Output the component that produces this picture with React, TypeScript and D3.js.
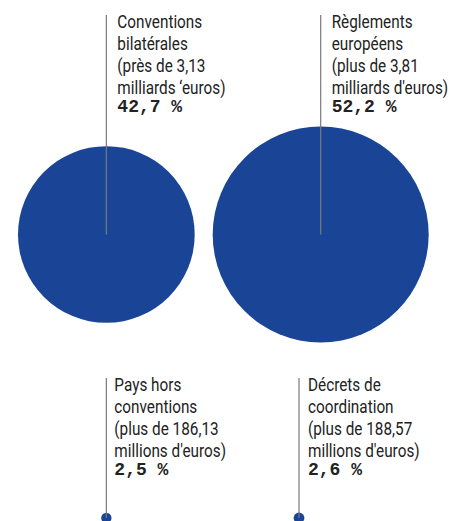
import React, { useEffect } from "react";
import * as d3 from "d3";

// shares of the total amount, in percent
const categories = [
  "Conventions bilatérales",
  "Règlements européens",
  "Pays hors conventions",
  "Décrets de coordination",
];
const shares = [42.7, 52.2, 2.5, 2.6];
const shareLabels = ["42,7 %", "52,2 %", "2,5 %", "2,6 %"];
const labelLines = [
  ["Conventions", "bilatérales", "(près de 3,13", "milliards ‘euros)"],
  ["Règlements", "européens", "(plus de 3,81", "milliards d'euros)"],
  ["Pays hors", "conventions", "(plus de 186,13", "millions d'euros)"],
  ["Décrets de", "coordination", "(plus de 188,57", "millions d'euros)"],
];

const W = 450;
const H = 521;
const BLUE = "#1a4596";

export default function App() {
  useEffect(() => {
    document.body.style.margin = "0";
  }, []);

  // radius grows linearly with the share
  const r = d3.scaleLinear().domain([0, d3.max(shares) as number]).range([0, 108]);

  const pad = 18;
  const gap = 18;
  const r0 = r(shares[0]);
  const r1 = r(shares[1]);
  const bigY = 234.5;
  const smallY = 518;

  // centres: two big circles side by side, small ones at the bottom
  const cx = [pad + r0, pad + 2 * r0 + gap + r1, pad + r0, 299];
  const cy = [bigY, bigY, smallY, smallY];
  const lineTop = [15, 15, 378, 378];
  const textDx = [11, 11, 8, 9];

  const lineH = 22;

  return (
    <svg width={W} height={H} style={{ display: "block" }}>
      {shares.map((s, i) => (
        <circle key={"c" + i} cx={cx[i]} cy={cy[i]} r={r(s)} fill={BLUE} />
      ))}
      {shares.map((s, i) => (
        <line
          key={"l" + i}
          x1={cx[i]}
          x2={cx[i]}
          y1={lineTop[i]}
          y2={cy[i]}
          stroke="#7a7a7a"
          strokeWidth={1.2}
        />
      ))}
      {categories.map((c, i) => {
        const x = cx[i] + textDx[i];
        const y0 = lineTop[i] + 13;
        return (
          <g key={"t" + i}>
            {labelLines[i].map((t, j) => (
              <g key={j} transform={`translate(${x},${y0 + j * lineH}) scale(0.875,1)`}>
                <text
                  fontFamily="Roboto"
                  fontSize={17.5}
                  fill="#222"
                >
                  {t}
                </text>
              </g>
            ))}
            <text
              x={x}
              y={y0 + 3 * lineH + 18}
              fontFamily="Liberation Mono"
              fontWeight="bold"
              fontSize={18}
              fill="#222"
              xmlSpace="preserve"
            >
              {shareLabels[i]}
            </text>
          </g>
        );
      })}
    </svg>
  );
}
